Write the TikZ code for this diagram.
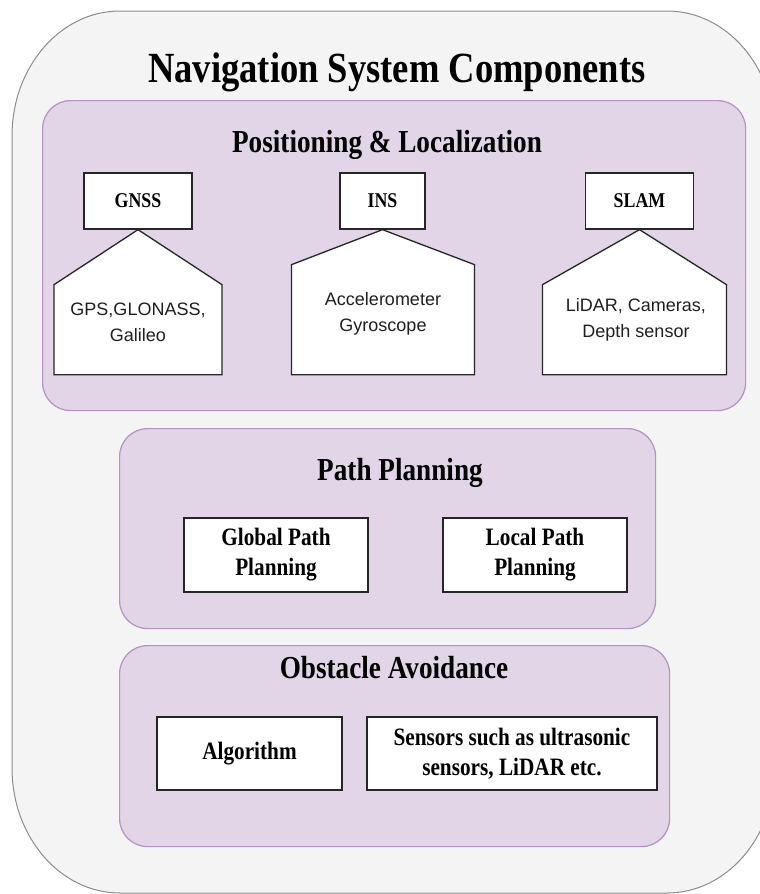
\documentclass[tikz,border=0pt]{standalone}
\usepackage{fontspec}
\setmainfont[FakeStretch=0.85]{Liberation Serif}
\newfontfamily\arialfont{Liberation Sans}
\usepackage{xcolor}

\definecolor{outerfill}{HTML}{F4F4F4}
\definecolor{outerline}{HTML}{8C8C8C}
\definecolor{panelfill}{HTML}{E1D5E7}
\definecolor{panelline}{HTML}{B293C2}

\tikzset{
	outerbox/.style={draw=outerline, fill=outerfill, line width=1pt},
	panel/.style={draw=panelline, fill=panelfill, line width=1.2pt, rounded corners=28pt, anchor=north west, inner sep=0pt},
	leafbox/.style={draw=black!85, fill=white, line width=1.3pt, align=center, inner sep=0pt, font=\bfseries\fontsize{25}{30}\selectfont},
	smallbox/.style={leafbox, font=\bfseries\fontsize{21}{24}\selectfont},
	penta/.style={draw=black!85, fill=white, line width=1.3pt, line join=miter},
	pentext/.style={align=center, text=black!88, font=\arialfont\fontsize{18}{26}\selectfont},
	bigtitle/.style={anchor=base, font=\bfseries\fontsize{43}{48}\selectfont},
	sectitle/.style={anchor=base, font=\bfseries\fontsize{32}{36}\selectfont}
}

\begin{document}
\begin{tikzpicture}[x=1pt,y=-1pt]
	\clip (0,0) rectangle (760,894);
	% outer frame, corners a bit taller than wide
	\draw [outerbox] (120,11) -- (667,11) arc [start angle=270, end angle=360, x radius=108, y radius=125]
		-- (775,768) arc [start angle=0, end angle=90, x radius=108, y radius=125]
		-- (120,893) arc [start angle=90, end angle=180, x radius=108, y radius=125]
		-- (12,136) arc [start angle=180, end angle=270, x radius=108, y radius=125] -- cycle;
	\node [bigtitle] (title) at (397,82) {Navigation System Components};
	
	% positioning
	\node [panel, minimum width=703pt, minimum height=310pt] (locpanel) at (42,100) {};
	\node [sectitle] (loctitle) at (387,152) {Positioning \& Localization};
	\node [smallbox, minimum width=108pt, minimum height=56pt] (gnss) at (138,201) {GNSS};
	\node [smallbox, minimum width=85pt, minimum height=56pt] (ins) at (382.5,201) {INS};
	\node [smallbox, minimum width=108pt, minimum height=56pt] (slam) at (639.5,201) {SLAM};
	\draw [penta] (gnss.south) -- ++(84,55) -- ++(0,90) -- ++(-168,0) -- ++(0,-90) -- cycle;
	\draw [penta] (ins.south) -- ++(92,35) -- ++(0,110) -- ++(-183,0) -- ++(0,-110) -- cycle;
	\draw [penta] (slam.south) -- ++(87,55) -- ++(0,90) -- ++(-184,0) -- ++(0,-90) -- cycle;
	\node [pentext] (gnsstext) at (138,322) {GPS,GLONASS,\\Galileo};
	\node [pentext] (instext) at (383,314) {Accelerometer\\Gyroscope};
	\node [pentext] (slamtext) at (636,320) {LiDAR, Cameras,\\Depth sensor};
	
	% path planning
	\node [panel, minimum width=536pt, minimum height=200pt] (pathpanel) at (119,428) {};
	\node [sectitle] (pathtitle) at (400,480) {Path Planning};
	\node [leafbox, minimum width=184pt, minimum height=74pt] (global) at (276,555) {Global Path\\Planning};
	\node [leafbox, minimum width=184pt, minimum height=74pt] (local) at (535,555) {Local Path\\Planning};
	
	% obstacle avoidance
	\node [panel, minimum width=550pt, minimum height=201pt] (obspanel) at (119,645) {};
	\node [sectitle] (obstitle) at (394,678) {Obstacle Avoidance};
	\node [leafbox, minimum width=185pt, minimum height=73pt] (algo) at (249.5,753.5) {Algorithm};
	\node [leafbox, minimum width=290pt, minimum height=73pt] (sensors) at (512,753.5) {Sensors such as ultrasonic\\sensors, LiDAR etc.};
\end{tikzpicture}
\end{document}
